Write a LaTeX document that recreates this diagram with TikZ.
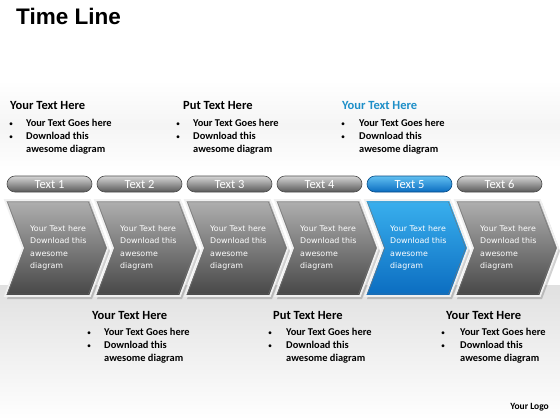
\documentclass[tikz,border=0pt]{standalone}
\usepackage{fontspec}
\setmainfont{Carlito}
\newfontfamily\dejavu{DejaVu Sans}
\newfontfamily\titlefont{Liberation Sans}
\definecolor{chevT}{HTML}{B0B0B0}
\definecolor{chevM}{HTML}{7E7E7E}
\definecolor{chevB}{HTML}{464646}
\definecolor{blueT}{HTML}{3AB0EE}
\definecolor{blueM}{HTML}{1895DF}
\definecolor{blueB}{HTML}{0A6CC0}
\definecolor{headblue}{HTML}{1E8FC8}
\definecolor{pillT}{HTML}{D6D6D6}
\definecolor{pillM}{HTML}{8E8E8E}
\definecolor{pillB}{HTML}{585858}
\tikzset{
  head/.style={anchor=base west, inner sep=0, font=\bfseries\fontsize{12.5}{12.5}\selectfont},
  bul/.style={anchor=base, inner sep=0, font=\fontsize{8}{8}\selectfont},
  btext/.style={anchor=base west, inner sep=0, font=\bfseries\fontsize{10.4}{10.4}\selectfont},
  ctext/.style={anchor=base west, inner sep=0, align=left, text=white, font=\dejavu\fontsize{7.9}{12.4}\selectfont},
  pill/.style={rectangle, rounded corners=8pt, minimum width=85pt, minimum height=16pt, inner sep=0,
    text height=8pt, text depth=0pt,
    draw=black!70, line width=0.6pt, top color=pillT, middle color=pillM, bottom color=pillB,
    text=white, font=\fontsize{12.5}{12.5}\selectfont},
  bluepill/.style={pill, top color=blueT!80!white, middle color=blueM, bottom color=blueB, draw=blueB!70!black},
  chevshadow/.style={fill=black, opacity=0.18},
  chevbevel/.style={draw=white!88!gray, line width=1.8pt, line join=miter}
}
\newcommand\chevpath[1]{(#1,200) -- ++(85,0) -- ++(18,48) -- ++(-18,48) -- ++(-85,0) -- ++(18,-48) -- cycle}
\newcommand\chev[4]{%
  \fill[chevshadow] ({#1+2},203) -- ++(85,0) -- ++(18,48) -- ++(-18,48) -- ++(-85,0) -- ++(18,-48) -- cycle;
  \path[top color=#2, middle color=#3, bottom color=#4, chevbevel] \chevpath{#1};
  \draw[black!55, line width=0.4pt] ({#1+2.5},202) -- ++(81,0) -- ++(17.2,46) -- ++(-17.2,46) -- ++(-81,0) -- ++(17.2,-46) -- cycle;
}
\newcommand\tblk[7]{%
  \node[head, text=#7] (#1h) at (#2,#5) {#6};
  \node[bul] (#1b1) at ({#3},{#5+16.5}) {\textbullet};
  \node[btext] (#1t1) at ({#4},{#5+16.5}) {Your Text Goes here};
  \node[bul] (#1b2) at ({#3},{#5+29.5}) {\textbullet};
  \node[btext] (#1t2) at ({#4},{#5+29.5}) {Download this};
  \node[btext] (#1t3) at ({#4},{#5+42.5}) {awesome diagram};
}
\begin{document}
\begin{tikzpicture}[x=1pt,y=-1pt]
\useasboundingbox (0,0) rectangle (560,420);
\fill[white] (0,0) rectangle (560,420);
\shade[top color=white, bottom color=white, middle color=gray!8] (0,80) rectangle (560,172);
\shade[top color=gray!24, bottom color=white] (0,285) rectangle (560,420);

\node[anchor=base west, inner sep=0, font=\titlefont\bfseries\fontsize{22.5}{22.5}\selectfont] (title) at (16,25) {Time Line};

% top text blocks
\tblk{ta}{10}{11}{26}{110}{Your Text Here}{black}
\tblk{tb}{183}{178}{193}{110}{Put Text Here}{black}
\tblk{tc}{342}{343}{359}{110}{Your Text Here}{headblue}

% pills
\node[pill] (p1) at (49.5,184) {Text 1};
\node[pill] (p2) at (139.5,184) {Text 2};
\node[pill] (p3) at (229.5,184) {Text 3};
\node[pill] (p4) at (319.5,184) {Text 4};
\node[bluepill] (p5) at (409.5,184) {Text 5};
\node[pill] (p6) at (499.5,184) {Text 6};

% chevrons
\chev{5}{chevT}{chevM}{chevB}
\chev{95}{chevT}{chevM}{chevB}
\chev{185}{chevT}{chevM}{chevB}
\chev{275}{chevT}{chevM}{chevB}
\chev{365}{blueT}{blueM}{blueB}
\chev{455}{chevT}{chevM}{chevB}

\node[ctext] (c1) at (30,268.5) {Your Text here\\Download this\\awesome\\diagram};
\node[ctext] (c2) at (120,268.5) {Your Text here\\Download this\\awesome\\diagram};
\node[ctext] (c3) at (210,268.5) {Your Text here\\Download this\\awesome\\diagram};
\node[ctext] (c4) at (300,268.5) {Your Text here\\Download this\\awesome\\diagram};
\node[ctext] (c5) at (390,268.5) {Your Text here\\Download this\\awesome\\diagram};
\node[ctext] (c6) at (480,268.5) {Your Text here\\Download this\\awesome\\diagram};

% bottom text blocks
\tblk{ba}{92}{89}{104}{319}{Your Text Here}{black}
\tblk{bb}{273}{270}{286}{319}{Put Text Here}{black}
\tblk{bc}{446}{443}{460}{319}{Your Text Here}{black}

\node[anchor=base east, inner sep=0, font=\bfseries\fontsize{9.5}{9.5}\selectfont] (logo) at (549,409) {Your Logo};
\end{tikzpicture}
\end{document}
